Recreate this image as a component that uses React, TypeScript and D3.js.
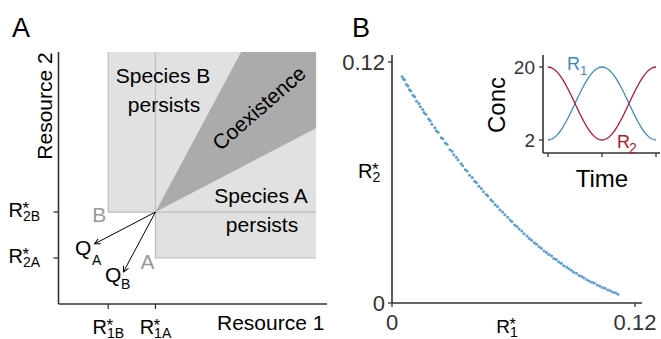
import React from 'react'
import * as d3 from 'd3'

const FONT = '"Liberation Sans", Arial, Helvetica, sans-serif'

// ---- Panel A: resource plane (schematic units) ----
const speciesNames = ['A', 'B']
const rStarResource1 = [3.9, 2.0] // R*_1A, R*_1B
const rStarResource2 = [1.85, 3.7] // R*_2A, R*_2B
const consumptionR1 = [2.45, 1.29] // Q_A, Q_B
const consumptionR2 = [1.28, 2.41]
const supplyMax = [10.36, 10.14]

// ---- Panel B: R*_1 vs R*_2 for the fluctuating runs ----
const rStar1Values = [
  0.0050, 0.0056, 0.0062, 0.0071, 0.0079, 0.0086, 0.0093, 0.0104, 0.0112, 0.0121,
  0.0133, 0.0140, 0.0152, 0.0158, 0.0167, 0.0181, 0.0189, 0.0197, 0.0212, 0.0219,
  0.0228, 0.0243, 0.0251, 0.0263, 0.0272, 0.0286, 0.0297, 0.0305, 0.0318, 0.0326,
  0.0341, 0.0349, 0.0362, 0.0371, 0.0383, 0.0396, 0.0408, 0.0417, 0.0429, 0.0441,
  0.0452, 0.0466, 0.0473, 0.0488, 0.0497, 0.0509, 0.0521, 0.0533, 0.0546, 0.0557,
  0.0571, 0.0583, 0.0592, 0.0606, 0.0617, 0.0628, 0.0641, 0.0652, 0.0667, 0.0678,
  0.0689, 0.0703, 0.0714, 0.0726, 0.0738, 0.0751, 0.0763, 0.0774, 0.0788, 0.0799,
  0.0811, 0.0823, 0.0836, 0.0848, 0.0862, 0.0873, 0.0886, 0.0897, 0.0911, 0.0924,
  0.0937, 0.0948, 0.0962, 0.0974, 0.0987, 0.0999, 0.1013, 0.1026, 0.1039, 0.1052,
  0.1066, 0.1079, 0.1091, 0.1104, 0.1116,
]
const rStar2Values = [
  0.1126, 0.1115, 0.1112, 0.1088, 0.1080, 0.1062, 0.1056, 0.1035, 0.1027, 0.1005,
  0.0993, 0.0977, 0.0963, 0.0948, 0.0940, 0.0916, 0.0907, 0.0890, 0.0873, 0.0858,
  0.0850, 0.0823, 0.0818, 0.0797, 0.0790, 0.0763, 0.0755, 0.0738, 0.0726, 0.0712,
  0.0693, 0.0684, 0.0663, 0.0657, 0.0636, 0.0625, 0.0606, 0.0600, 0.0581, 0.0570,
  0.0554, 0.0540, 0.0533, 0.0514, 0.0505, 0.0489, 0.0480, 0.0463, 0.0453, 0.0440,
  0.0427, 0.0413, 0.0406, 0.0389, 0.0381, 0.0368, 0.0358, 0.0345, 0.0334, 0.0321,
  0.0313, 0.0300, 0.0293, 0.0280, 0.0272, 0.0259, 0.0252, 0.0242, 0.0235, 0.0221,
  0.0216, 0.0204, 0.0198, 0.0186, 0.0179, 0.0170, 0.0163, 0.0153, 0.0148, 0.0137,
  0.0132, 0.0124, 0.0116, 0.0110, 0.0103, 0.0099, 0.0090, 0.0085, 0.0077, 0.0074,
  0.0065, 0.0061, 0.0054, 0.0051, 0.0044,
]
const bTicks = [0, 0.12]

// ---- Inset: resource concentrations over one period ----
const timePoints = [0, 1, 2, 3, 4, 5, 6, 7, 8, 9, 10, 11, 12, 13, 14, 15, 16, 17, 18, 19, 20, 21, 22, 23, 24]
const r1Conc = [2, 2.31, 3.21, 4.64, 6.5, 8.67, 11, 13.33, 15.5, 17.36, 18.79, 19.69, 20, 19.69, 18.79, 17.36, 15.5, 13.33, 11, 8.67, 6.5, 4.64, 3.21, 2.31, 2]
const r2Conc = [20, 19.69, 18.79, 17.36, 15.5, 13.33, 11, 8.67, 6.5, 4.64, 3.21, 2.31, 2, 2.31, 3.21, 4.64, 6.5, 8.67, 11, 13.33, 15.5, 17.36, 18.79, 19.69, 20]
const concTicks = [2, 20]
const timeTicks = [0, 12, 24]

const BLUE = '#3b8bc2'
const RED = '#b5172b'
const AXIS = '#333'

const charW = (s: string) =>
  s.split('').reduce((a, c) => a + (c === 'A' || c === 'B' ? 0.667 : 0.556), 0)

function RStar({ x, y, sub, size = 20, subSize = 14, anchor = 'start' }: any) {
  const rw = 0.722 * size
  const total = rw + charW(sub) * subSize
  const x0 = anchor === 'end' ? x - total : anchor === 'middle' ? x - total / 2 : x
  return (
    <g fontFamily={FONT} fill="#000">
      <text x={x0} y={y} fontSize={size}>R</text>
      <text x={x0 + rw - 0.5} y={y - 3} fontSize={size * 0.85}>*</text>
      <text x={x0 + rw} y={y + 4} fontSize={subSize}>{sub}</text>
    </g>
  )
}

export default function App() {
  // panel A scales
  const xA = d3.scaleLinear().domain([0, 10.8]).range([58.5, 327])
  const yA = d3.scaleLinear().domain([0, 10.14]).range([304, 52])
  const [a, b] = [0, 1]
  const eqX = rStarResource1[a]
  const eqY = rStarResource2[b]
  const tTop = (supplyMax[1] - eqY) / consumptionR2[b]
  const tRight = (supplyMax[0] - eqX) / consumptionR1[a]
  const wedge = [
    [eqX, eqY],
    [eqX + consumptionR1[b] * tTop, supplyMax[1]],
    [supplyMax[0], supplyMax[1]],
    [supplyMax[0], eqY + consumptionR2[a] * tRight],
  ]
  const wedgePath = d3.line<number[]>().x((d) => xA(d[0])).y((d) => yA(d[1]))(wedge) + 'Z'

  // panel B scales
  const xB = d3.scaleLinear().domain([0, 0.12]).range([392, 635])
  const yB = d3.scaleLinear().domain([0, 0.12]).range([303, 62])

  // inset scales
  const xI = d3.scaleLinear().domain([0, 24]).range([548, 656])
  const yI = d3.scaleLinear().domain([2, 20]).range([140, 67])
  const line = (vals: number[]) =>
    d3.line<number>().x((_, i) => xI(timePoints[i])).y((d) => yI(d)).curve(d3.curveNatural)(vals) || ''

  return (
    <svg width={661} height={339} style={{ position: 'absolute', left: 0, top: 0 }} fontFamily={FONT}>
      <defs>
        <marker id="arr" viewBox="0 0 10 10" refX="9" refY="5" markerWidth="7" markerHeight="7" orient="auto">
          <path d="M1,1 L9,5 L1,9" fill="none" stroke="#000" strokeWidth="1.4" />
        </marker>
      </defs>
      <rect width={661} height={339} fill="#fff" />

      {/* ---------- Panel A ---------- */}
      <text x={12} y={37} fontSize={27}>A</text>
      {speciesNames.map((s, i) => (
        <rect key={'r' + s} x={xA(rStarResource1[i])} y={yA(supplyMax[1])}
          width={xA(supplyMax[0]) - xA(rStarResource1[i])}
          height={yA(rStarResource2[i]) - yA(supplyMax[1])} fill="#e1e1e1" />
      ))}
      <path d={wedgePath} fill="#ababab" />
      {speciesNames.map((s, i) => (
        <path key={'z' + s} fill="none" stroke="#bdbdbd" strokeWidth={1.2}
          d={`M${xA(rStarResource1[i])},${yA(supplyMax[1])}V${yA(rStarResource2[i])}H${xA(supplyMax[0])}`} />
      ))}
      {speciesNames.map((s, i) => (
        <line key={'q' + s} x1={xA(eqX)} y1={yA(eqY)}
          x2={xA(eqX - consumptionR1[i])} y2={yA(eqY - consumptionR2[i])}
          stroke="#000" strokeWidth={1} markerEnd="url(#arr)" />
      ))}
      <text x={75} y={255} fontSize={21}>Q</text>
      <text x={92} y={265} fontSize={14}>A</text>
      <text x={105} y={282} fontSize={21}>Q</text>
      <text x={121} y={289} fontSize={14}>B</text>
      <text x={xA(rStarResource1[1]) - 2} y={222} fontSize={21} fill="#999" textAnchor="end">B</text>
      <text x={xA(rStarResource1[0]) - 1} y={269} fontSize={21} fill="#999" textAnchor="end">A</text>

      <text x={163} y={83} fontSize={21} textAnchor="middle">Species B</text>
      <text x={164} y={112} fontSize={21} textAnchor="middle">persists</text>
      <text x={261} y={203} fontSize={21} textAnchor="middle">Species A</text>
      <text x={262} y={232} fontSize={21} textAnchor="middle">persists</text>
      <text x={0} y={0} fontSize={21} textAnchor="middle" dy="0.35em"
        transform="translate(259,108) rotate(-41)">Coexistence</text>

      <line x1={xA(0)} x2={xA(0)} y1={yA(supplyMax[1])} y2={yA(0)} stroke={AXIS} strokeWidth={1.6} />
      <line x1={xA(0)} x2={xA.range()[1]} y1={yA(0)} y2={yA(0)} stroke={AXIS} strokeWidth={1.6} />
      {speciesNames.map((s, i) => (
        <g key={'t' + s}>
          <line x1={xA(0) - 5} x2={xA(0)} y1={yA(rStarResource2[i])} y2={yA(rStarResource2[i])} stroke={AXIS} strokeWidth={1.3} />
          <RStar x={40} y={yA(rStarResource2[i]) + 5} sub={'2' + s} anchor="end" />
          <line y1={yA(0)} y2={yA(0) + 5} x1={xA(rStarResource1[i])} x2={xA(rStarResource1[i])} stroke={AXIS} strokeWidth={1.3} />
          <RStar x={xA(rStarResource1[i])} y={334} sub={'1' + s} anchor="middle" />
        </g>
      ))}
      <text x={0} y={0} fontSize={21} textAnchor="middle" transform="translate(52,106) rotate(-90)">Resource 2</text>
      <text x={217} y={330} fontSize={21}>Resource 1</text>

      {/* ---------- Panel B ---------- */}
      <text x={352} y={37} fontSize={27}>B</text>
      {rStar1Values.map((v, i) => (
        <circle key={i} cx={xB(v)} cy={yB(rStar2Values[i])} r={1.5} fill="#5b9fd1" />
      ))}
      <line x1={392} x2={392} y1={55} y2={yB(0)} stroke={AXIS} strokeWidth={1.6} />
      <line x1={392} x2={642} y1={yB(0)} y2={yB(0)} stroke={AXIS} strokeWidth={1.6} />
      {bTicks.map((t) => (
        <g key={'bt' + t} fill="#333" fontSize={22}>
          <line x1={388} x2={392} y1={yB(t)} y2={yB(t)} stroke={AXIS} strokeWidth={1.3} />
          <text x={385} y={yB(t)} dy="0.36em" textAnchor="end">{t}</text>
          <line y1={yB(0)} y2={yB(0) + 4} x1={xB(t)} x2={xB(t)} stroke={AXIS} strokeWidth={1.3} />
          <text x={xB(t)} y={330} textAnchor="middle">{t}</text>
        </g>
      ))}
      <RStar x={507} y={333} sub="1" anchor="middle" size={19} />
      <RStar x={358} y={178} sub="2" size={20} />

      {/* ---------- Inset ---------- */}
      <path d={line(r1Conc)} fill="none" stroke={BLUE} strokeWidth={1.3} />
      <path d={line(r2Conc)} fill="none" stroke={RED} strokeWidth={1.3} />
      <line x1={543} x2={543} y1={55} y2={153} stroke={AXIS} strokeWidth={1.6} />
      <line x1={543} x2={660} y1={153} y2={153} stroke={AXIS} strokeWidth={1.6} />
      {concTicks.map((t) => (
        <g key={'ct' + t}>
          <line x1={539} x2={543} y1={yI(t)} y2={yI(t)} stroke={AXIS} strokeWidth={1.3} />
          <text x={535} y={yI(t)} dy="0.36em" textAnchor="end" fontSize={19} fill="#333">{t}</text>
        </g>
      ))}
      {timeTicks.map((t) => (
        <line key={'tt' + t} x1={xI(t)} x2={xI(t)} y1={153} y2={157} stroke={AXIS} strokeWidth={1.3} />
      ))}
      <text x={0} y={0} fontSize={24} textAnchor="middle" transform="translate(505,105) rotate(-90)">Conc</text>
      <text x={602} y={187} fontSize={24} textAnchor="middle">Time</text>
      <text x={567} y={70} fontSize={18} fill={BLUE}>R</text>
      <text x={580} y={75} fontSize={13} fill={BLUE}>1</text>
      <text x={617} y={148} fontSize={18} fill={RED}>R</text>
      <text x={629} y={153} fontSize={14} fill={RED}>2</text>
    </svg>
  )
}
